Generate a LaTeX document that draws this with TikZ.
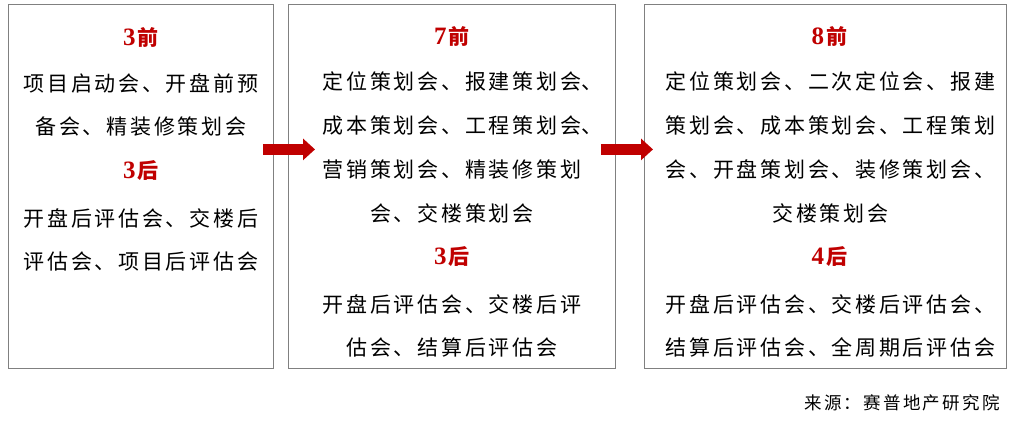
\documentclass[tikz,border=0pt]{standalone}
\usepackage{fontspec}
\setmainfont{Liberation Serif}
\newfontfamily\cjk[LetterSpace=13]{Noto Sans CJK SC}
\newfontfamily\cjkhead{Noto Sans CJK SC}
\usetikzlibrary{arrows.meta}
\definecolor{darkred}{RGB}{192,0,0}
\definecolor{framegray}{RGB}{128,128,128}

\newcommand{\phasetext}[2]{#1\kern2pt{\cjkhead\fontsize{21}{21}\selectfont #2}}

\tikzset{
    panel/.style={draw=framegray, line width=0.8pt, anchor=north west, inner sep=0pt, minimum height=364pt},
    phase/.style={text=darkred, inner sep=0pt, font=\fontsize{25}{25}\selectfont\bfseries},
    meetings/.style={align=center, inner sep=0pt, font=\cjk\fontsize{21}{43.7}\selectfont},
    blockarrow/.style={draw=darkred, line width=11pt, -{Triangle[length=12pt,width=21pt]}}
}

\begin{document}
\begin{tikzpicture}[x=1pt, y=-1pt]
    \useasboundingbox[fill=white] (0,0) rectangle (1012,421);

    % Panels
    \node[panel, minimum width=265pt] (early) at (8,4) {};
    \node[panel, minimum width=327pt] (mid) at (288,4) {};
    \node[panel, minimum width=362pt] (late) at (644,4) {};

    % First panel
    \node[phase] (early-pre) at ([yshift=-33pt]early.north) {\phasetext{3}{前}};
    \node[meetings] (early-pre-list) at ([yshift=-101pt]early.north) {项目启动会、开盘前预\\备会、精装修策划会};
    \node[phase] (early-post) at ([yshift=-167pt]early.north) {\phasetext{3}{后}};
    \node[meetings] (early-post-list) at ([yshift=-236pt]early.north) {开盘后评估会、交楼后\\评估会、项目后评估会};

    % Second panel
    \node[phase] (mid-pre) at ([yshift=-32pt]mid.north) {\phasetext{7}{前}};
    \node[meetings] (mid-pre-list) at ([yshift=-143.5pt]mid.north) {定位策划会、报建策划会\rlap{、}\\成本策划会、工程策划会\rlap{、}\\营销策划会、精装修策划\\会、交楼策划会};
    \node[phase] (mid-post) at ([yshift=-253pt]mid.north) {\phasetext{3}{后}};
    \node[meetings] (mid-post-list) at ([yshift=-322pt]mid.north) {开盘后评估会、交楼后评\\估会、结算后评估会};

    % Third panel
    \node[phase] (late-pre) at ([xshift=4pt,yshift=-32pt]late.north) {\phasetext{8}{前}};
    \node[meetings] (late-pre-list) at ([xshift=5pt,yshift=-143.5pt]late.north) {定位策划会、二次定位会、报建\\策划会、成本策划会、工程策划\\会、开盘策划会、装修策划会、\\交楼策划会};
    \node[phase] (late-post) at ([xshift=4pt,yshift=-253pt]late.north) {\phasetext{4}{后}};
    \node[meetings] (late-post-list) at ([xshift=5pt,yshift=-322pt]late.north) {开盘后评估会、交楼后评估会、\\结算后评估会、全周期后评估会};

    % Arrows between panels
    \draw[blockarrow] ([xshift=-11pt,yshift=37pt]early.east) -- ([xshift=27pt,yshift=37pt]mid.west);
    \draw[blockarrow] ([xshift=-15pt,yshift=37pt]mid.east) -- ([xshift=9pt,yshift=37pt]late.west);

    % Source
    \node[anchor=east, inner sep=0pt, font=\cjk\fontsize{17.5}{17.5}\selectfont] (source) at (1000,403) {来源：赛普地产研究院};
\end{tikzpicture}
\end{document}
